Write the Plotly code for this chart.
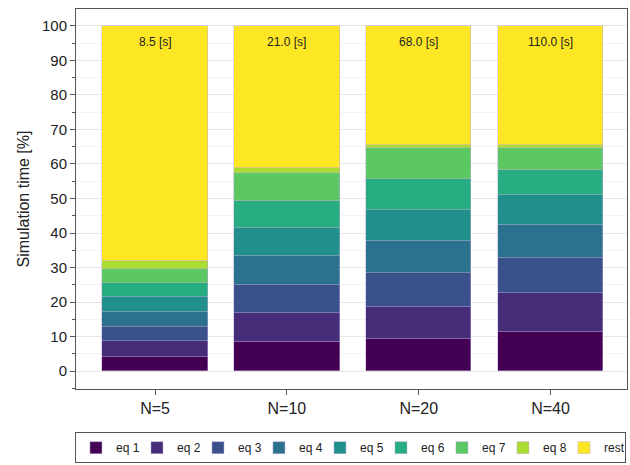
import plotly.graph_objects as go

categories = ["N=5", "N=10", "N=20", "N=40"]
series_names = ["eq 1", "eq 2", "eq 3", "eq 4", "eq 5", "eq 6", "eq 7", "eq 8", "rest"]
eq1 = [4.2, 8.4, 9.3, 11.2]
eq2 = [4.4, 8.3, 9.4, 11.3]
eq3 = [4.3, 8.3, 9.6, 10.3]
eq4 = [4.3, 8.2, 9.3, 9.4]
eq5 = [4.2, 8.2, 9.0, 8.9]
eq6 = [4.2, 8.0, 9.0, 7.2]
eq7 = [4.1, 7.9, 8.9, 6.2]
eq8 = [2.1, 1.4, 1.0, 1.0]
rest = [68.2, 41.3, 34.5, 34.5]
total_time_labels = ["8.5 [s]", "21.0 [s]", "68.0 [s]", "110.0 [s]"]
y_ticks = [0, 10, 20, 30, 40, 50, 60, 70, 80, 90, 100]

colors = ["#440154", "#472c7a", "#3b518b", "#2c718e", "#21908d",
          "#27ad81", "#5cc863", "#aadc32", "#fde725"]

series = [eq1, eq2, eq3, eq4, eq5, eq6, eq7, eq8, rest]
xs = list(range(len(categories)))

fig = go.Figure()
for name, vals, col in zip(series_names, series, colors):
    fig.add_trace(go.Bar(
        x=xs, y=vals, name=name, width=0.8,
        marker=dict(color=col, line=dict(color="rgba(190,170,215,0.6)", width=0.8)),
    ))

for xi, lab in zip(xs, total_time_labels):
    fig.add_annotation(x=xi, y=95.3, text=lab, showarrow=False,
                       font=dict(size=12, color="#222222"))

font_family = "Liberation Sans, Arial, sans-serif"
fig.update_layout(
    barmode="stack",
    width=630, height=465,
    margin=dict(l=76, r=3, t=9, b=76),
    paper_bgcolor="white", plot_bgcolor="white",
    font=dict(family=font_family, color="#222222"),
    bargap=0,
    xaxis=dict(
        range=[-0.6, 3.58], tickmode="array", tickvals=xs, ticktext=categories,
        showgrid=False, showline=True, mirror=True, linecolor="#555555", linewidth=1,
        ticks="outside", ticklen=5, tickcolor="#555555",
        tickfont=dict(size=16), zeroline=False,
    ),
    yaxis=dict(
        range=[-5.2, 104.9], tickmode="array", tickvals=y_ticks,
        showgrid=True, gridcolor="#e6e6e6", gridwidth=1,
        showline=True, mirror=True, linecolor="#555555", linewidth=1,
        ticks="outside", ticklen=5, tickcolor="#555555",
        tickfont=dict(size=15), zeroline=False,
        title=dict(text="Simulation time [%]", font=dict(size=16), standoff=8),
        minor=dict(dtick=5, tick0=0, ticks="outside", ticklen=3, tickcolor="#555555",
                   showgrid=True, gridcolor="#f3f3f3"),
    ),
    legend=dict(
        orientation="h", xref="container", x=0.119, xanchor="left",
        yref="container", y=0.004, yanchor="bottom",
        bordercolor="#555555", borderwidth=1, font=dict(size=12),
        entrywidth=16, entrywidthmode="pixels", itemwidth=30,
        tracegroupgap=0, traceorder="normal",
    ),
)

fig.write_html("out.html")
